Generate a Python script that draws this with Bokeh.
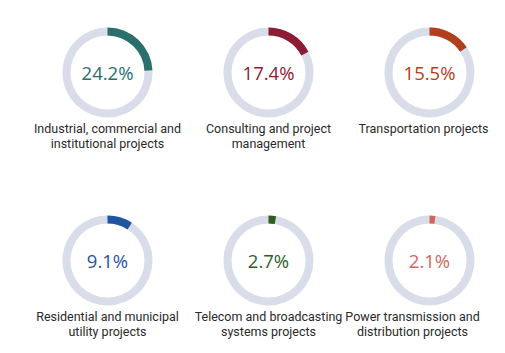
import math
from bokeh.plotting import figure
from bokeh.models import Range1d, ColumnDataSource
from bokeh.core.properties import value
from bokeh.embed import file_html
from bokeh.resources import INLINE

categories = [
    "Industrial, commercial and\ninstitutional projects",
    "Consulting and project\nmanagement",
    "Transportation projects",
    "Residential and municipal\nutility projects",
    "Telecom and broadcasting\nsystems projects",
    "Power transmission and\ndistribution projects",
]
shares = [24.2, 17.4, 15.5, 9.1, 2.7, 2.1]
colors = ["#2b6f6d", "#8c1b33", "#b13f1d", "#1f55a1", "#2e5f1f", "#d0675d"]
track_color = "#d9dde9"

W, H = 505, 353
col_x = [107, 268, 429]
row_y = [H - 72, H - 260]
label_dx = [0, 0, -6, 0, 0, -17]
R_OUT, R_IN = 45, 37

xs, ys, starts, ends = [], [], [], []
for i, s in enumerate(shares):
    xs.append(col_x[i % 3])
    ys.append(row_y[i // 3])
    starts.append(math.pi / 2 - 2 * math.pi * s / 100.0)
    ends.append(math.pi / 2)

src = ColumnDataSource(dict(
    x=xs, y=ys, start=starts, end=ends, color=colors,
    pct=[f"{s:.1f}%" for s in shares],
    label=categories,
    lx=[x + d for x, d in zip(xs, label_dx)],
    ly=[y - 48 for y in ys],
))

p = figure(width=W, height=H, x_range=Range1d(0, W), y_range=Range1d(0, H),
           output_backend="svg", toolbar_location=None, min_border=0)
p.axis.visible = False
p.grid.visible = False
p.outline_line_color = None
p.background_fill_color = "white"

p.annulus(x="x", y="y", inner_radius=R_IN, outer_radius=R_OUT, source=src,
          fill_color=track_color, line_color=None)
p.annular_wedge(x="x", y="y", inner_radius=R_IN, outer_radius=R_OUT,
                start_angle="start", end_angle="end", source=src,
                fill_color="color", line_color=None)
p.text(x="x", y="y", text="pct", source=src, text_color="color",
       text_font=value("Open Sans"), text_font_size="18.5px",
       text_align="center", text_baseline="middle")
p.text(x="lx", y="ly", text="label", source=src, text_color="#2a2a2a",
       text_font=value("Roboto"), text_font_size="12.5px",
       text_align="center", text_baseline="top", text_line_height=1.0)

open("out.html", "w").write(file_html(p, INLINE))
